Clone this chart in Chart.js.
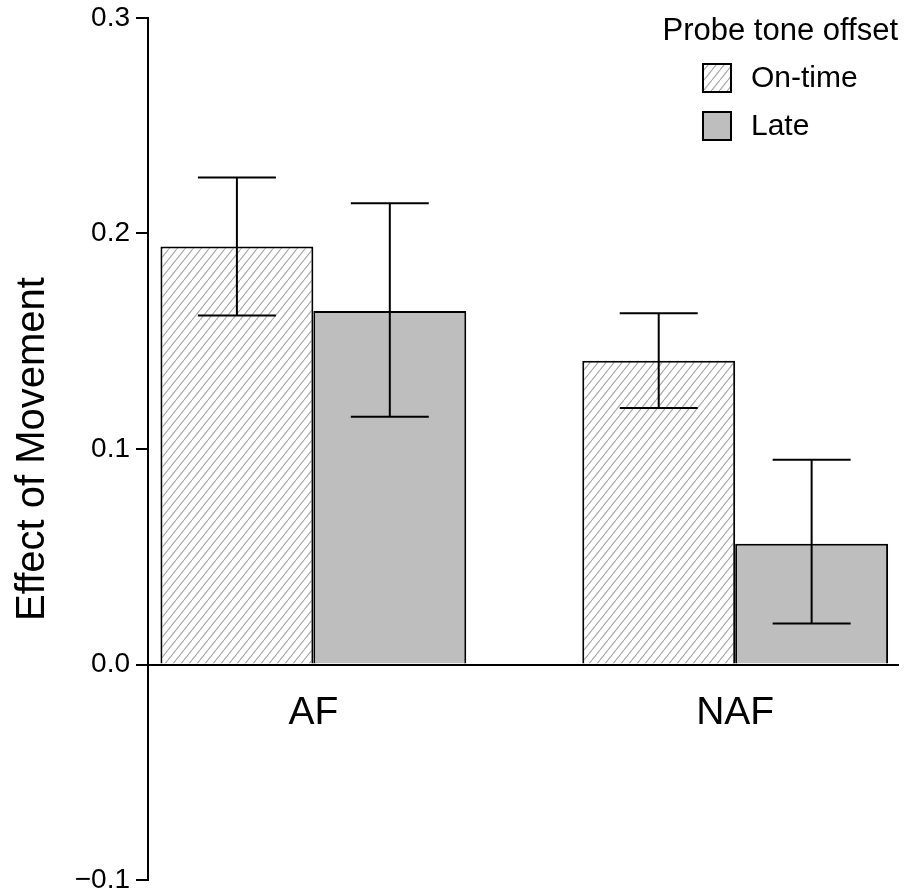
<!DOCTYPE html>
<html>
<head>
<meta charset="utf-8">
<script src="https://cdn.jsdelivr.net/npm/chart.js@4"></script>
<style>
  body { margin: 0; background: #fff; }
  #wrap { width: 906px; height: 894px; }
</style>
</head>
<body>
<div id="wrap"><canvas id="effect-chart" width="906" height="894"></canvas></div>
<script>
let groups = ["AF", "NAF"];
let seriesNames = ["On-time", "Late"];
let onTime = [0.194, 0.141];
let onTimeLow = [0.162, 0.119];
let onTimeHigh = [0.226, 0.163];
let late = [0.164, 0.056];
let lateLow = [0.115, 0.019];
let lateHigh = [0.214, 0.095];
let yTicks = [-0.1, 0.0, 0.1, 0.2, 0.3];
let legendTitle = "Probe tone offset";
let yTitle = "Effect of Movement";

Chart.defaults.font.family = '"Liberation Sans", Arial, Helvetica, sans-serif';
Chart.defaults.color = '#000';

// diagonal hatch used for the on-time bars
function makeHatch(bg, line){
  let tile = document.createElement('canvas');
  tile.width = 8;
  tile.height = 10;
  let c = tile.getContext('2d');
  c.fillStyle = bg;
  c.fillRect(0, 0, 8, 10);
  c.strokeStyle = line;
  c.lineWidth = 1.2;
  c.beginPath();
  for (let k=-1; k<=1; k++){
    c.moveTo(k*8, 10);
    c.lineTo(k*8+8, 0);
  }
  c.stroke();
  return c.createPattern(tile, 'repeat');
}
let hatch = makeHatch('#ffffff', '#ababab');
let lateGrey = '#bebebe';

function points(values){
  return groups.map((g, i) => ({x: i+1, y: values[i]}));
}

const errorBars = {
  id: 'errorBars',
  afterDatasetsDraw(chart){
    let ctx = chart.ctx;
    let y = chart.scales.y;
    ctx.save();
    ctx.strokeStyle = '#000';
    ctx.lineWidth = 2;
    chart.data.datasets.forEach((ds, i) => {
      chart.getDatasetMeta(i).data.forEach((bar, j) => {
        let top = y.getPixelForValue(ds.high[j]);
        let bottom = y.getPixelForValue(ds.low[j]);
        let half = bar.width * 0.255;
        ctx.beginPath();
        ctx.moveTo(bar.x, top); ctx.lineTo(bar.x, bottom);
        ctx.moveTo(bar.x-half, top); ctx.lineTo(bar.x+half, top);
        ctx.moveTo(bar.x-half, bottom); ctx.lineTo(bar.x+half, bottom);
        ctx.stroke();
      });
    });
    ctx.restore();
  }
};

const legendBox = {
  id: 'legendBox',
  afterDraw(chart){
    let ctx = chart.ctx;
    let right = chart.chartArea.right;
    ctx.save();
    ctx.fillStyle = '#000';
    ctx.font = '31px "Liberation Sans", Arial, sans-serif';
    ctx.textAlign = 'right';
    ctx.textBaseline = 'middle';
    ctx.fillText(legendTitle, right, 31);
    ctx.font = '30px "Liberation Sans", Arial, sans-serif';
    ctx.textAlign = 'left';
    chart.data.datasets.forEach((ds, i) => {
      let cy = 78 + i*48;
      let bx = right - 195;
      ctx.fillStyle = ds.backgroundColor;
      ctx.fillRect(bx, cy-14, 28, 28);
      ctx.strokeStyle = '#000';
      ctx.lineWidth = 2;
      ctx.strokeRect(bx, cy-14, 28, 28);
      ctx.fillStyle = '#000';
      ctx.fillText(ds.label, bx + 48, cy + 1);
    });
    ctx.restore();
  }
};

new Chart("effect-chart", {
  type: "bar",
  data: {
    datasets: [
      {
        label: seriesNames[0],
        data: points(onTime),
        low: onTimeLow,
        high: onTimeHigh,
        backgroundColor: hatch,
        borderColor: '#000',
        borderWidth: 2,
        borderSkipped: 'start'
      },
      {
        label: seriesNames[1],
        data: points(late),
        low: lateLow,
        high: lateHigh,
        backgroundColor: lateGrey,
        borderColor: '#000',
        borderWidth: 2,
        borderSkipped: 'start'
      }
    ]
  },
  options: {
    responsive: false,
    animation: false,
    devicePixelRatio: 1,
    categoryPercentage: 0.725,
    barPercentage: 1.0,
    layout: {padding: {left: 0, right: 8, top: 18, bottom: 14}},
    plugins: {
      legend: {display: false},
      tooltip: {enabled: false}
    },
    scales: {
      x: {
        type: 'linear',
        position: {y: 0},
        offset: false,
        bounds: 'data',
        grace: 0,
        min: 0.608,
        max: 2.386,
        afterDataLimits: s => { s.min = 0.608; s.max = 2.386; },
        afterBuildTicks: s => { s.ticks = groups.map((g, i) => ({value: i+1})); },
        afterFit: s => { s.height = 0; },
        ticks: {
          callback: v => groups[v-1],
          font: {size: 39},
          color: '#000',
          padding: 25,
          autoSkip: false,
          maxRotation: 0
        },
        grid: {display: false, drawTicks: false},
        border: {display: true, color: '#000', width: 2}
      },
      y: {
        min: -0.1,
        max: 0.3,
        afterBuildTicks: s => { s.ticks = yTicks.map(v => ({value: v})); },
        afterFit: s => { s.width = 148; s.paddingTop = 0; s.paddingBottom = 0; },
        ticks: {
          callback: v => v.toFixed(1).replace('-', '\u2212'),
          font: {size: 28},
          color: '#000',
          padding: 6
        },
        grid: {drawOnChartArea: false, drawTicks: true, tickLength: 12, tickColor: '#000', lineWidth: 2},
        border: {display: true, color: '#000', width: 2},
        title: {
          display: true,
          text: yTitle,
          font: {size: 40},
          color: '#000',
          padding: {top: 9, bottom: 0}
        }
      }
    }
  },
  plugins: [errorBars, legendBox]
});
</script>
</body>
</html>
